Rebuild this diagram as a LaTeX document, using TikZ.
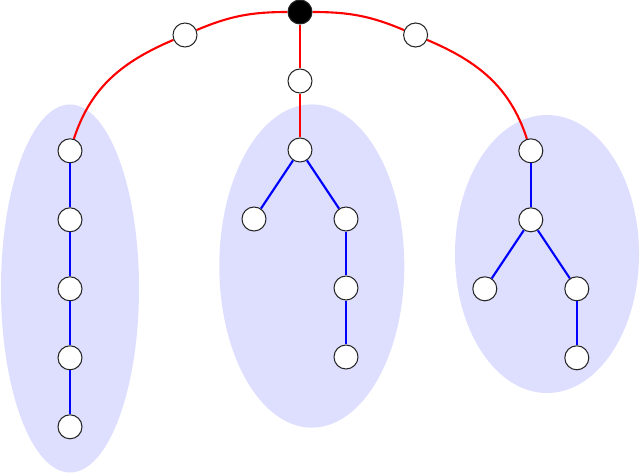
\documentclass[tikz,border=0pt]{standalone}
\usepackage{xcolor}
\usepackage{tikz}
\usetikzlibrary{shapes.geometric, positioning, backgrounds}

\begin{document}
\begin{tikzpicture}[
    node distance=1.725cm and 1.15cm, on grid,
    vtx/.style={draw=black!85, circle, fill=white, minimum size=0.6cm, inner sep=0pt, line width=0.75pt},
    rootvtx/.style={vtx, fill=black},
    spine/.style={red, line width=1.5pt},
    branch/.style={blue, line width=1.5pt},
    blob/.style={fill=blue!13, draw=none}
]
    \useasboundingbox (0,0) rectangle (16,11.85);

    % Top: root and the path
    \node[rootvtx] (root) at (7.5,11.55) {};
    \node[vtx] (pl) at (4.625,10.975) {};
    \node[vtx] (pr) at (10.39,10.975) {};
    \node[vtx, below=1.725cm of root] (pm) {};

    % Left tree (a path)
    \node[vtx] (l1) at (1.75,8.08) {};
    \node[vtx, below=of l1] (l2) {};
    \node[vtx, below=of l2] (l3) {};
    \node[vtx, below=of l3] (l4) {};
    \node[vtx, below=of l4] (l5) {};

    % Middle tree
    \node[vtx, below=1.725cm of pm] (m1) {};
    \node[vtx, below left=of m1] (m2) {};
    \node[vtx, below right=of m1] (m3) {};
    \node[vtx, below=of m3] (m4) {};
    \node[vtx, below=of m4] (m5) {};

    % Right tree
    \node[vtx] (r1) at (13.27,8.08) {};
    \node[vtx, below=of r1] (r2) {};
    \node[vtx, below left=of r2] (r3) {};
    \node[vtx, below right=of r2] (r4) {};
    \node[vtx, below=of r4] (r5) {};

    % Shaded groups
    \begin{scope}[on background layer]
        \node[blob, ellipse, minimum width=3.45cm, minimum height=9.2cm] (gl) at (1.75,4.6375) {};
        \node[blob, ellipse, minimum width=4.625cm, minimum height=8.08cm] (gm) at (7.795,5.2) {};
        \node[blob, ellipse, minimum width=4.6cm, minimum height=6.95cm] (gr) at (13.675,5.5) {};
    \end{scope}

    % Red edges
    \begin{scope}[on background layer]
        \draw[spine] (l1) to[out=72, in=203] (pl);
        \draw[spine] (pl) to[out=23, in=180] (root);
        \draw[spine] (root) to[out=0, in=157] (pr);
        \draw[spine] (pr) to[out=-23, in=108] (r1);
        \draw[spine] (root) -- (pm);
        \draw[spine] (pm) -- (m1);
    \end{scope}

    % Blue edges
    \draw[branch] (l1) -- (l2);
    \draw[branch] (l2) -- (l3);
    \draw[branch] (l3) -- (l4);
    \draw[branch] (l4) -- (l5);
    \draw[branch] (m1) -- (m2);
    \draw[branch] (m1) -- (m3);
    \draw[branch] (m3) -- (m4);
    \draw[branch] (m4) -- (m5);
    \draw[branch] (r1) -- (r2);
    \draw[branch] (r2) -- (r3);
    \draw[branch] (r2) -- (r4);
    \draw[branch] (r4) -- (r5);

\end{tikzpicture}
\end{document}
